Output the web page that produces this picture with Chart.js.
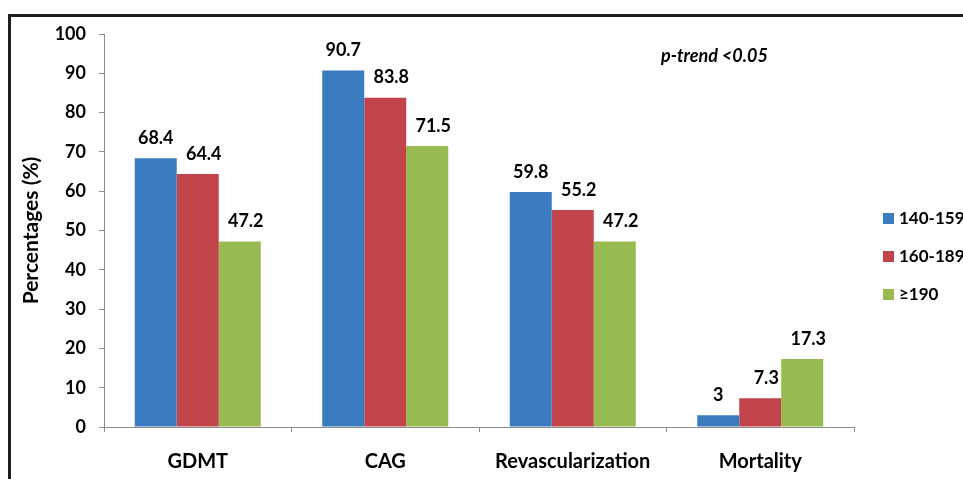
<!DOCTYPE html>
<html>
<head>
<meta charset="utf-8">
<script src="https://cdn.jsdelivr.net/npm/chart.js@4/dist/chart.umd.min.js"></script>
<style>
  html, body { margin: 0; padding: 0; background: #fff; }
  #wrap { width: 963px; height: 479px; position: relative; }
</style>
</head>
<body>
<div id="wrap"><canvas id="c" width="963" height="479"></canvas></div>
<script>
const categories = ['GDMT', 'CAG', 'Revascularization', 'Mortality'];
const seriesNames = ['140-159', '160-189', '\u2265190'];
const series140 = [68.4, 90.7, 59.8, 3];
const series160 = [64.4, 83.8, 55.2, 7.3];
const series190 = [47.2, 71.5, 47.2, 17.3];
const yTicks = [0, 10, 20, 30, 40, 50, 60, 70, 80, 90, 100];
const annotation = 'p-trend <0.05';
const yTitle = 'Percentages (%)';

const colors = ['#3B7BC0', '#C0444A', '#97BB50'];
const FONT = 'Lato, "Liberation Sans", sans-serif';

const framePlugin = {
  id: 'frame',
  beforeDraw(chart) {
    const ctx = chart.ctx;
    ctx.save();
    ctx.fillStyle = '#fff';
    ctx.fillRect(0, 0, chart.width, chart.height);
    ctx.fillStyle = '#1e1e1e';
    ctx.fillRect(8, 14, chart.width - 8, 3);
    ctx.fillRect(8, 14, 3, chart.height - 14);
    ctx.restore();
  }
};

const labelPlugin = {
  id: 'valueLabels',
  afterDatasetsDraw(chart) {
    const ctx = chart.ctx;
    ctx.save();
    ctx.font = 'bold 18px ' + FONT;
    ctx.fillStyle = '#000';
    ctx.textAlign = 'center';
    ctx.textBaseline = 'middle';
    chart.data.datasets.forEach((ds, i) => {
      const meta = chart.getDatasetMeta(i);
      meta.data.forEach((bar, j) => {
        const shift = ds.labelShift || 0;
        ctx.fillText(String(ds.data[j]), bar.x + shift, bar.y - 20);
      });
    });
    // annotation
    ctx.font = 'italic bold 18px ' + FONT;
    ctx.textAlign = 'left';
    ctx.fillText(annotation, 661, 56);
    // legend
    ctx.font = 'bold 17px ' + FONT;
    const lx = chart.chartArea.right + 29;
    chart.data.datasets.forEach((ds, i) => {
      const cy = 218 + i * 38;
      ctx.fillStyle = ds.backgroundColor;
      ctx.fillRect(lx, cy - 5, 11, 11);
      ctx.fillStyle = '#000';
      ctx.fillText(ds.label, lx + 16, cy + 1);
    });
    ctx.restore();
  }
};

new Chart(document.getElementById('c'), {
  type: 'bar',
  data: {
    labels: categories,
    datasets: [
      { label: seriesNames[0], data: series140, backgroundColor: colors[0], labelShift: 0 },
      { label: seriesNames[1], data: series160, backgroundColor: colors[1], labelShift: 6 },
      { label: seriesNames[2], data: series190, backgroundColor: colors[2], labelShift: 6 }
    ]
  },
  options: {
    responsive: false,
    animation: false,
    devicePixelRatio: 1,
    layout: { padding: { top: 34, right: 109, bottom: 0, left: 0 } },
    datasets: { bar: { categoryPercentage: 0.672, barPercentage: 1.0, borderWidth: 0 } },
    plugins: { legend: { display: false }, tooltip: { enabled: false } },
    scales: {
      x: {
        grid: { display: true, drawOnChartArea: false, drawTicks: true, tickLength: 5, color: '#8c8c8c' },
        border: { display: true, color: '#8c8c8c', width: 1 },
        ticks: { color: '#000', font: { family: FONT, size: 20, weight: 'bold' }, padding: 18 },
        afterFit(scale) { scale.height = 52; }
      },
      y: {
        min: 0, max: 100,
        afterBuildTicks(scale) { scale.ticks = yTicks.map(v => ({ value: v })); },
        grid: { display: true, drawOnChartArea: false, drawTicks: true, tickLength: 5, color: '#8c8c8c' },
        border: { display: true, color: '#8c8c8c', width: 1 },
        ticks: { color: '#000', font: { family: FONT, size: 18, weight: 'bold' }, padding: 13 },
        title: { display: true, text: yTitle, color: '#000', font: { family: FONT, size: 21, weight: 'bold' }, padding: { top: 19, bottom: 0 } },
        afterFit(scale) { scale.width = 104; }
      }
    }
  },
  plugins: [framePlugin, labelPlugin]
});
</script>
</body>
</html>
